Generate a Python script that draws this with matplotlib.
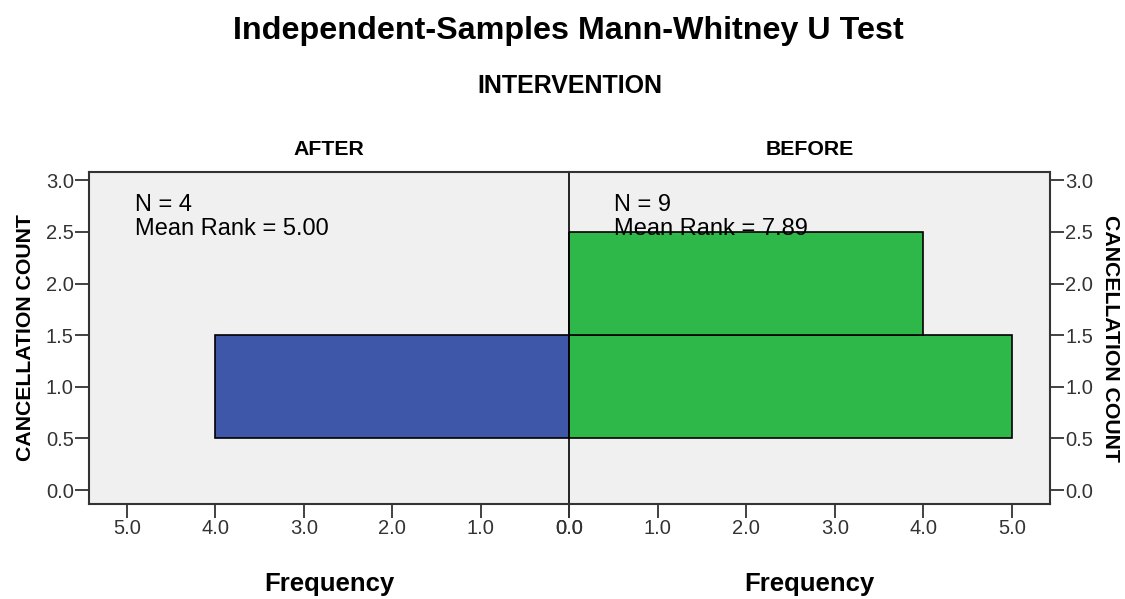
import matplotlib
matplotlib.use("Agg")
import matplotlib.pyplot as plt

plt.rcParams['font.family'] = ['Liberation Sans', 'DejaVu Sans']

bin_centers = [1.0, 2.0]
after_freq = [4, 0]
before_freq = [5, 4]
groups = ["AFTER", "BEFORE"]
n_values = [4, 9]
mean_ranks = [5.00, 7.89]
x_ticks = [0, 1, 2, 3, 4, 5]
y_ticks = [0.0, 0.5, 1.0, 1.5, 2.0, 2.5, 3.0]

blue = "#3F57A8"
green = "#2FB84A"
bg = "#F0F0F0"
frame = "#333333"

W, H = 1125, 599
fig = plt.figure(figsize=(W/100, H/100), dpi=100)
axL = fig.add_axes([89/W, 95/H, 480/W, 332/H])
axR = fig.add_axes([569/W, 95/H, 481/W, 332/H])

xmax = 5.43
for ax in (axL, axR):
    ax.set_facecolor(bg)
    ax.set_ylim(-0.135, 3.08)
    ax.set_yticks(y_ticks)
    ax.set_yticklabels([f"{v:.1f}" for v in y_ticks])
    ax.set_xticks(x_ticks)
    ax.set_xticklabels([f"{v:.1f}" for v in x_ticks])
    for s in ax.spines.values():
        s.set_color(frame)
        s.set_linewidth(1.5)
    ax.tick_params(direction='out', length=10, width=1.3, color=frame,
                   labelsize=14.5, labelcolor="#333333", pad=1)
    ax.set_xlabel("Frequency", fontsize=18.5, fontweight='bold', labelpad=24)

axL.set_xlim(xmax, 0)
axR.set_xlim(0, xmax)
axR.yaxis.tick_right()
axR.yaxis.set_label_position("right")
axR.spines['left'].set_color('black')
axR.spines['left'].set_linewidth(1.2)
axL.spines['right'].set_visible(False)

axL.barh(bin_centers, after_freq, height=1.0, color=blue, edgecolor='black', linewidth=1.2)
axR.barh(bin_centers, before_freq, height=1.0, color=green, edgecolor='black', linewidth=1.2)

axL.set_ylabel("CANCELLATION COUNT", fontsize=15.3, fontweight='bold', labelpad=8)
axR.set_ylabel("CANCELLATION COUNT", fontsize=15.3, fontweight='bold', rotation=270, labelpad=19)

axL.set_title(groups[0], fontsize=15.3, fontweight='bold', pad=12)
axR.set_title(groups[1], fontsize=15.3, fontweight='bold', pad=12)

axL.text(4.91, 2.865, f"N = {n_values[0]}\nMean Rank = {mean_ranks[0]:.2f}",
         fontsize=17, va='top', ha='left', linespacing=1.13, zorder=5)
axR.text(0.51, 2.865, f"N = {n_values[1]}\nMean Rank = {mean_ranks[1]:.2f}",
         fontsize=17, va='top', ha='left', linespacing=1.13, zorder=5)

fig.text(568/W, 1 - 31/H, "Independent-Samples Mann-Whitney U Test", fontsize=23.2,
         fontweight='bold', ha='center', va='center')
fig.text(570/W, 1 - 86/H, "INTERVENTION", fontsize=18, fontweight='bold',
         ha='center', va='center')

fig.savefig("out.png", dpi=100, facecolor='white')
